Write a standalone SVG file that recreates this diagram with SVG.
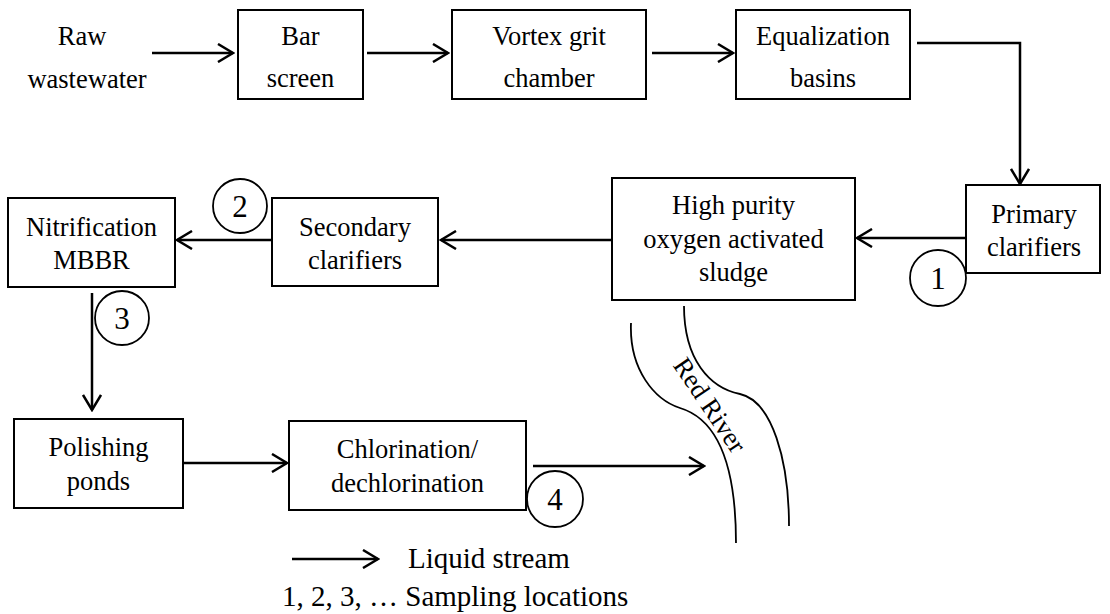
<svg xmlns="http://www.w3.org/2000/svg" width="1110" height="614" viewBox="0 0 1110 614">
<style>
.box{fill:#fff;stroke:#000;stroke-width:2}
.t{font-family:"Liberation Serif","DejaVu Serif",serif;font-size:26.5px;fill:#000;text-anchor:middle}
.n{font-family:"Liberation Serif","DejaVu Serif",serif;font-size:31px;fill:#000;text-anchor:middle}
.lg{font-family:"Liberation Serif","DejaVu Serif",serif;font-size:29px;fill:#000}
.c{fill:none;stroke:#000;stroke-width:1.8}
.w{fill:none;stroke:#000;stroke-width:2.5}
.rv{fill:none;stroke:#000;stroke-width:1.8}
</style>
<defs>
<marker id="arr" viewBox="0 0 18 20" refX="16" refY="10" markerWidth="18" markerHeight="20" markerUnits="userSpaceOnUse" orient="auto">
<path d="M1,1 L16,10 L1,19" fill="none" stroke="#000" stroke-width="2.5"/>
</marker>
</defs>
<rect width="1110" height="614" fill="#fff"/>

<g id="raw">
<text class="t" x="82" y="45">Raw</text>
<text class="t" x="87" y="88">wastewater</text>
</g>
<g id="bar"><rect class="box" x="238" y="10" width="125" height="89"/>
<text class="t" x="300.5" y="45">Bar</text><text class="t" x="300.5" y="87">screen</text></g>
<g id="vortex"><rect class="box" x="452" y="10" width="194" height="89"/>
<text class="t" x="549" y="45">Vortex grit</text><text class="t" x="549" y="87">chamber</text></g>
<g id="eq"><rect class="box" x="736" y="10" width="174" height="89"/>
<text class="t" x="823" y="45">Equalization</text><text class="t" x="823" y="87">basins</text></g>
<g id="primary"><rect class="box" x="966" y="185" width="134" height="88"/>
<text class="t" x="1034" y="223">Primary</text><text class="t" x="1034" y="256">clarifiers</text></g>
<g id="hpo"><rect class="box" x="612" y="178" width="243" height="122"/>
<text class="t" x="733.5" y="214">High purity</text><text class="t" x="733.5" y="248">oxygen activated</text><text class="t" x="733.5" y="281">sludge</text></g>
<g id="secondary"><rect class="box" x="272" y="198" width="166" height="88"/>
<text class="t" x="355" y="236">Secondary</text><text class="t" x="355" y="269">clarifiers</text></g>
<g id="nitrification"><rect class="box" x="8" y="198" width="167" height="89"/>
<text class="t" x="91.5" y="236">Nitrification</text><text class="t" x="91.5" y="269">MBBR</text></g>
<g id="polishing"><rect class="box" x="14" y="419" width="169" height="89"/>
<text class="t" x="98.5" y="456">Polishing</text><text class="t" x="98.5" y="490">ponds</text></g>
<g id="chlorination"><rect class="box" x="289" y="421" width="237" height="89"/>
<text class="t" x="407.5" y="458">Chlorination/</text><text class="t" x="407.5" y="492">dechlorination</text></g>

<g id="connectors" class="w">
<path d="M152,53 H233" marker-end="url(#arr)"/>
<path d="M367,53 H448" marker-end="url(#arr)"/>
<path d="M652,53 H733" marker-end="url(#arr)"/>
<path d="M917,43 H1020 V184" marker-end="url(#arr)"/>
<path d="M966,238 H857" marker-end="url(#arr)"/>
<path d="M612,240 H441" marker-end="url(#arr)"/>
<path d="M271,240 H177" marker-end="url(#arr)"/>
<path d="M92,293 V410" marker-end="url(#arr)"/>
<path d="M183,463 H287" marker-end="url(#arr)"/>
<path d="M533,466 H704" marker-end="url(#arr)"/>
</g>

<g id="s1"><circle class="c" cx="938" cy="278" r="28"/><text class="n" x="938" y="289">1</text></g>
<g id="s2"><circle class="c" cx="240" cy="206" r="27"/><text class="n" x="240" y="217">2</text></g>
<g id="s3"><circle class="c" cx="122" cy="318" r="27"/><text class="n" x="122" y="329">3</text></g>
<g id="s4"><circle class="c" cx="555" cy="499" r="28"/><text class="n" x="555" y="510">4</text></g>

<g id="river">
<path class="rv" d="M631,323 C629,370 655,400 680,408 C720,420 736,470 736,543"/>
<path class="rv" d="M684,306 C684,360 710,388 740,394 C772,401 789,460 789,526"/>
<text class="t" x="0" y="0" transform="translate(710,405) rotate(56)" dy="9">Red River</text>
</g>

<g id="legend">
<path class="w" d="M292,559 H378" marker-end="url(#arr)"/>
<text class="lg" x="408" y="568">Liquid stream</text>
<text class="lg" x="282" y="606">1, 2, 3, … Sampling locations</text>
</g>
</svg>
